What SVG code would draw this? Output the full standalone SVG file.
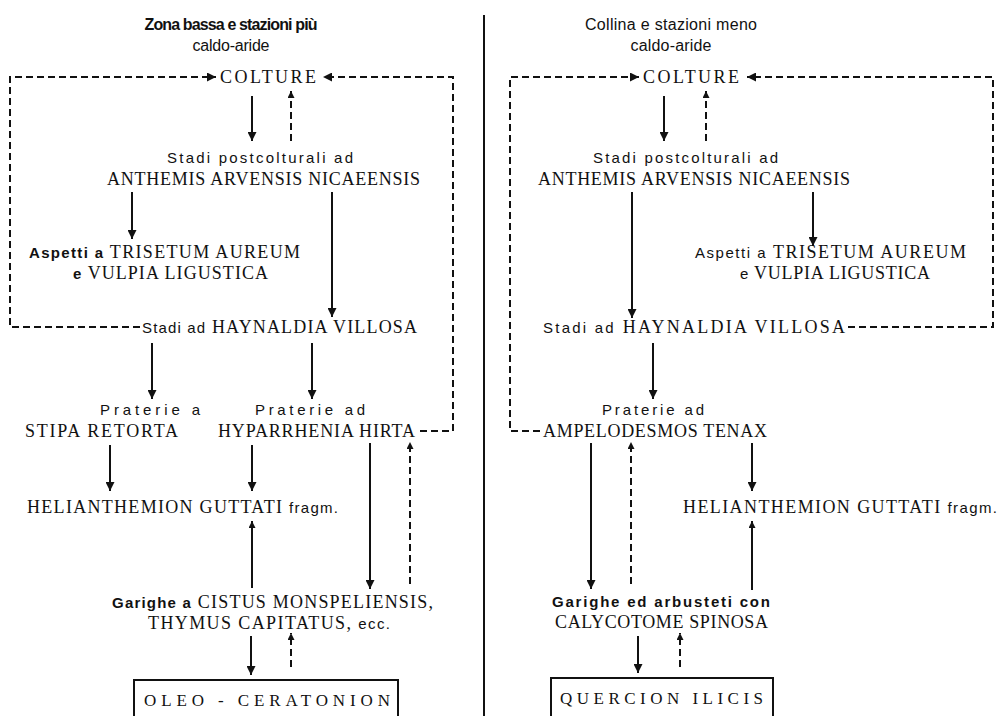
<svg xmlns="http://www.w3.org/2000/svg" width="999" height="716" viewBox="0 0 999 716">
<style>
.s{font-family:"Liberation Sans",Arial,sans-serif;font-size:15px;fill:#111;}
.b{font-weight:bold;}
.c{font-family:"Liberation Serif","Times New Roman",serif;font-size:18px;fill:#111;}
.t{font-family:"Liberation Sans",Arial,sans-serif;font-size:16px;fill:#111;}
.bx{font-family:"Liberation Serif","Times New Roman",serif;font-size:17px;fill:#111;}
.ln{stroke:#111;stroke-width:2;fill:none;}
.d{stroke:#111;stroke-width:2;fill:none;stroke-dasharray:7 4;}
.box{stroke:#111;stroke-width:2;fill:none;}
</style>
<defs>
<marker id="ah" viewBox="0 0 10 10" refX="10" refY="5" markerUnits="userSpaceOnUse" markerWidth="9" markerHeight="9" orient="auto">
<path d="M0,0 L10,5 L0,10 z" fill="#111"/>
</marker>
<marker id="ahs" viewBox="0 0 10 10" refX="10" refY="5" markerUnits="userSpaceOnUse" markerWidth="7" markerHeight="7" orient="auto">
<path d="M0,0 L10,5 L0,10 z" fill="#111"/>
</marker>
</defs>
<rect width="999" height="716" fill="#fff"/>

<!-- divider -->
<line x1="484" y1="15" x2="484" y2="716" class="ln"/>

<!-- LEFT -->
<g id="title-left">
<text x="231" y="30" text-anchor="middle" class="t b" textLength="173" lengthAdjust="spacing">Zona bassa e stazioni più</text>
<text x="231" y="51" text-anchor="middle" class="t" textLength="77" lengthAdjust="spacing">caldo-aride</text>
</g>
<g id="colture-left"><text x="220" y="83" class="c" textLength="96" lengthAdjust="spacing">COLTURE</text></g>
<g id="anthemis-left">
<text x="167" y="163" class="s" textLength="186" lengthAdjust="spacing">Stadi postcolturali ad</text>
<text x="107" y="185" class="c" textLength="313" lengthAdjust="spacing">ANTHEMIS ARVENSIS NICAEENSIS</text>
</g>
<g id="trisetum-left">
<text x="29" y="258" class="c" textLength="271" lengthAdjust="spacing"><tspan class="s b">Aspetti a</tspan> TRISETUM AUREUM</text>
<text x="73" y="279" class="c" textLength="195" lengthAdjust="spacing"><tspan class="s b">e</tspan> VULPIA LIGUSTICA</text>
</g>
<g id="haynaldia-left">
<text x="142" y="333" class="c" textLength="275" lengthAdjust="spacing"><tspan class="s">Stadi ad</tspan> HAYNALDIA VILLOSA</text>
</g>
<g id="stipa-left">
<text x="150" y="415" text-anchor="middle" class="s" textLength="100" lengthAdjust="spacing">Praterie a</text>
<text x="25" y="437" class="c" textLength="153" lengthAdjust="spacing">STIPA RETORTA</text>
</g>
<g id="hyparrhenia-left">
<text x="310" y="415" text-anchor="middle" class="s" textLength="110" lengthAdjust="spacing">Praterie ad</text>
<text x="218" y="437" class="c" textLength="197" lengthAdjust="spacing">HYPARRHENIA HIRTA</text>
</g>
<g id="helianthemion-left">
<text x="27" y="513" class="c" textLength="311" lengthAdjust="spacing">HELIANTHEMION GUTTATI <tspan class="s">fragm.</tspan></text>
</g>
<g id="garighe-left">
<text x="112" y="608" class="c" textLength="321" lengthAdjust="spacing"><tspan class="s b">Garighe a</tspan> CISTUS MONSPELIENSIS,</text>
<text x="148" y="629" class="c" textLength="242" lengthAdjust="spacing">THYMUS CAPITATUS, <tspan class="s">ecc.</tspan></text>
</g>
<g id="oleo-left">
<rect x="134" y="680" width="264" height="60" class="box"/>
<text x="144" y="706" class="bx" textLength="246" lengthAdjust="spacing">OLEO - CERATONION</text>
</g>

<!-- RIGHT -->
<g id="title-right">
<text x="671" y="30" text-anchor="middle" class="t" textLength="172" lengthAdjust="spacing">Collina e stazioni meno</text>
<text x="671" y="51" text-anchor="middle" class="t" textLength="81" lengthAdjust="spacing">caldo-aride</text>
</g>
<g id="colture-right"><text x="643" y="83" class="c" textLength="96" lengthAdjust="spacing">COLTURE</text></g>
<g id="anthemis-right">
<text x="593" y="163" class="s" textLength="185" lengthAdjust="spacing">Stadi postcolturali ad</text>
<text x="538" y="185" class="c" textLength="312" lengthAdjust="spacing">ANTHEMIS ARVENSIS NICAEENSIS</text>
</g>
<g id="trisetum-right">
<text x="695" y="258" class="c" textLength="271" lengthAdjust="spacing"><tspan class="s">Aspetti a</tspan> TRISETUM AUREUM</text>
<text x="740" y="279" class="c" textLength="190" lengthAdjust="spacing"><tspan class="s">e</tspan> VULPIA LIGUSTICA</text>
</g>
<g id="haynaldia-right">
<text x="543" y="333" class="c" textLength="302" lengthAdjust="spacing"><tspan class="s">Stadi ad</tspan> HAYNALDIA VILLOSA</text>
</g>
<g id="ampelodesmos-right">
<text x="653" y="415" text-anchor="middle" class="s" textLength="102" lengthAdjust="spacing">Praterie ad</text>
<text x="543" y="437" class="c" textLength="224" lengthAdjust="spacing">AMPELODESMOS TENAX</text>
</g>
<g id="helianthemion-right">
<text x="683" y="513" class="c" textLength="314" lengthAdjust="spacing">HELIANTHEMION GUTTATI <tspan class="s">fragm.</tspan></text>
</g>
<g id="garighe-right">
<text x="552" y="607" class="s b" textLength="218" lengthAdjust="spacing">Garighe ed arbusteti con</text>
<text x="555" y="628" class="c" textLength="213" lengthAdjust="spacing">CALYCOTOME SPINOSA</text>
</g>
<g id="quercion-right">
<rect x="551" y="678" width="222" height="60" class="box"/>
<text x="560" y="704" class="bx" textLength="203" lengthAdjust="spacing">QUERCION ILICIS</text>
</g>

<!-- CONNECTORS -->
<g id="connectors">
<!-- left -->
<path d="M140,327 H10 V77 H216" class="d" marker-end="url(#ah)"/>
<path d="M420,431 H453 V77 H323" class="d" marker-end="url(#ah)"/>
<line x1="252" y1="96" x2="252" y2="141" class="ln" marker-end="url(#ah)"/>
<line x1="291" y1="141" x2="291" y2="91" class="d" marker-end="url(#ahs)"/>
<line x1="132" y1="192" x2="132" y2="239" class="ln" marker-end="url(#ah)"/>
<line x1="332" y1="192" x2="332" y2="317" class="ln" marker-end="url(#ah)"/>
<line x1="152" y1="343" x2="152" y2="399" class="ln" marker-end="url(#ah)"/>
<line x1="312" y1="343" x2="312" y2="399" class="ln" marker-end="url(#ah)"/>
<line x1="110" y1="445" x2="110" y2="491" class="ln" marker-end="url(#ah)"/>
<line x1="252" y1="445" x2="252" y2="491" class="ln" marker-end="url(#ah)"/>
<line x1="252" y1="588" x2="252" y2="521" class="ln" marker-end="url(#ahs)"/>
<line x1="370" y1="443" x2="370" y2="589" class="ln" marker-end="url(#ah)"/>
<line x1="410" y1="584" x2="410" y2="442" class="d" marker-end="url(#ahs)"/>
<line x1="251" y1="636" x2="251" y2="675" class="ln" marker-end="url(#ah)"/>
<line x1="291" y1="667" x2="291" y2="633" class="d" marker-end="url(#ahs)"/>
<!-- right -->
<path d="M540,431 H510 V77 H639" class="d" marker-end="url(#ah)"/>
<path d="M848,327 H993 V77 H747" class="d" marker-end="url(#ah)"/>
<line x1="664" y1="96" x2="664" y2="141" class="ln" marker-end="url(#ah)"/>
<line x1="706" y1="141" x2="706" y2="91" class="d" marker-end="url(#ahs)"/>
<line x1="632" y1="192" x2="632" y2="318" class="ln" marker-end="url(#ah)"/>
<line x1="813" y1="192" x2="813" y2="246" class="ln" marker-end="url(#ah)"/>
<line x1="653" y1="343" x2="653" y2="399" class="ln" marker-end="url(#ah)"/>
<line x1="591" y1="443" x2="591" y2="589" class="ln" marker-end="url(#ah)"/>
<line x1="631" y1="584" x2="631" y2="442" class="d" marker-end="url(#ahs)"/>
<line x1="752" y1="443" x2="752" y2="491" class="ln" marker-end="url(#ah)"/>
<line x1="752" y1="590" x2="752" y2="521" class="ln" marker-end="url(#ahs)"/>
<line x1="638" y1="636" x2="638" y2="673" class="ln" marker-end="url(#ah)"/>
<line x1="680" y1="667" x2="680" y2="633" class="d" marker-end="url(#ahs)"/>
</g>
</svg>
